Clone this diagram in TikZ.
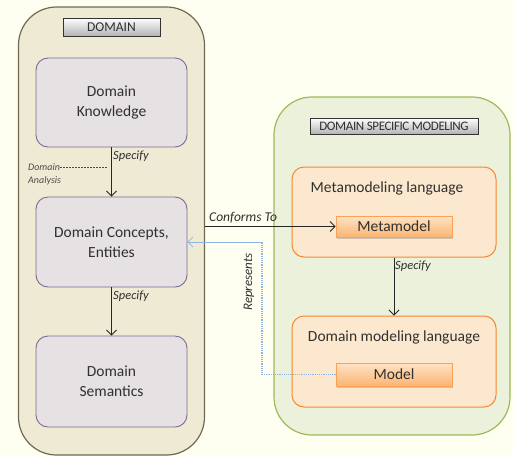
\documentclass[tikz,border=0pt]{standalone}
\usepackage{fontspec}
\setmainfont{Carlito}
\usetikzlibrary{arrows.meta,shadows}
\definecolor{bgc}{HTML}{FEFFF0}
\definecolor{domfill}{HTML}{EEEAD4}
\definecolor{domdraw}{HTML}{6E6A4E}
\definecolor{dsmfill}{HTML}{EBF1DA}
\definecolor{dsmdraw}{HTML}{9BBB59}
\definecolor{boxfill}{HTML}{E6E1E3}
\definecolor{boxdraw}{HTML}{7E6A94}
\definecolor{langfill}{HTML}{FCE8CE}
\definecolor{langdraw}{HTML}{F7882F}
\definecolor{mtop}{HTML}{FDE3C5}
\definecolor{mbot}{HTML}{FAB572}
\definecolor{repc}{HTML}{8EB4E3}
\definecolor{txt}{HTML}{303030}
\tikzset{
  x=1pt,y=-1pt,
  container/.style={draw=#1,line width=1.2pt,rounded corners=38pt,inner sep=0pt},
  conbox/.style={draw=boxdraw,fill=boxfill,line width=0.9pt,rounded corners=12pt,minimum width=151pt,align=center,font=\fontsize{15.5}{20}\selectfont,text=txt},
  lang/.style={draw=langdraw,fill=langfill,line width=1pt,rounded corners=12pt,minimum width=204pt,inner sep=0pt},
  item/.style={draw=langdraw!80,top color=mtop,bottom color=mbot,line width=0.8pt,minimum width=116pt,inner sep=0pt,font=\fontsize{15.5}{18}\selectfont,text=txt,drop shadow={shadow xshift=1pt,shadow yshift=-1.5pt,opacity=0.35}},
  tag/.style={draw=black!80,line width=1pt,top color=white,bottom color=black!30,inner sep=0pt,text=txt,drop shadow={shadow xshift=1pt,shadow yshift=-1pt,opacity=0.4}},
  lbl/.style={font=\itshape\fontsize{12.5}{15}\selectfont,text=txt,inner sep=1pt},
  arr/.style={-{Straight Barb[length=5pt,width=10pt]},line width=0.8pt,draw=black!85},
}
\begin{document}
\begin{tikzpicture}
\useasboundingbox (0,0) rectangle (513,456);
\fill[bgc] (0,0) rectangle (513,456);

% containers
\node[container=domdraw,fill=domfill,minimum width=186pt,minimum height=448pt] (dom) at (111.5,231) {};
\node[container=dsmdraw,fill=dsmfill,minimum width=236pt,minimum height=338pt] (dsm) at (392,266) {};

% tags
\node[tag,minimum width=97pt,minimum height=18pt,font=\fontsize{13.5}{15}\selectfont] (domtag) at (111.5,27) {DOMAIN};
\node[tag,minimum width=168pt,minimum height=16pt,font=\fontsize{13}{15}\selectfont] (dsmtag) at (394,126) {\addfontfeatures{LetterSpace=-3}DOMAIN SPECIFIC MODELING};

% domain boxes
\node[conbox,minimum height=89pt] (dk) at (111.5,102.5) {Domain\\Knowledge};
\node[conbox,minimum height=90pt] (dc) at (111.5,242) {Domain Concepts,\\Entities};
\node[conbox,minimum height=91pt] (ds) at (111.5,381.5) {Domain\\Semantics};

% language boxes
\node[lang,minimum height=90pt] (mml) at (394,212) {};
\node[lang,minimum height=91pt] (dml) at (394,361.5) {};
\node[font=\fontsize{15.5}{18}\selectfont,text=txt] (mmlt) at (387,188) {Metamodeling language};
\node[font=\fontsize{15.5}{18}\selectfont,text=txt] (dmlt) at (394,337) {Domain modeling language};
\node[item,minimum height=21pt] (mm) at (394,226.5) {Metamodel};
\node[item,minimum height=23pt] (model) at (394,374.5) {Model};

% arrows
\draw[arr] (dk) -- (dc);
\draw[arr] (dc) -- (ds);
\draw[arr] (mml.south -| mm.south) -- (dml.north -| mm.south);
\draw[arr] (dom.east |- mm.west) -- (mm.west);

% represents
\coordinate (rp) at (262,0);
\draw[repc,line width=1.2pt,densely dotted] (model.west) -- (rp |- model.west) -- (rp |- dc.east);
\draw[repc,line width=0.7pt,-{Straight Barb[length=5pt,width=10pt]}] (rp |- dc.east) -- (dc.east);

% labels
\node[lbl,anchor=south west] (s1) at (112,163) {Specify};
\node[lbl,anchor=south west] (s2) at (112,303) {Specify};
\node[lbl,anchor=south west] (s3) at (394,273) {Specify};
\node[lbl,anchor=south west,font=\itshape\fontsize{13.5}{15}\selectfont] (cf) at (208,224) {Conforms To};
\node[lbl,rotate=90,font=\itshape\fontsize{13}{15}\selectfont] (rep) at (249,282) {Represents};
\node[font=\itshape\fontsize{10}{12}\selectfont,text=black!70,anchor=west,inner sep=0pt] (da1) at (28,167) {Domain};
\node[font=\itshape\fontsize{10}{12}\selectfont,text=black!70,anchor=west,inner sep=0pt] (da2) at (28,181) {Analysis};
\coordinate (dae) at (108,167);
\draw[black!70,line width=0.5pt,dash pattern=on 2pt off 1pt] (da1.east) -- (dae);
\end{tikzpicture}
\end{document}
